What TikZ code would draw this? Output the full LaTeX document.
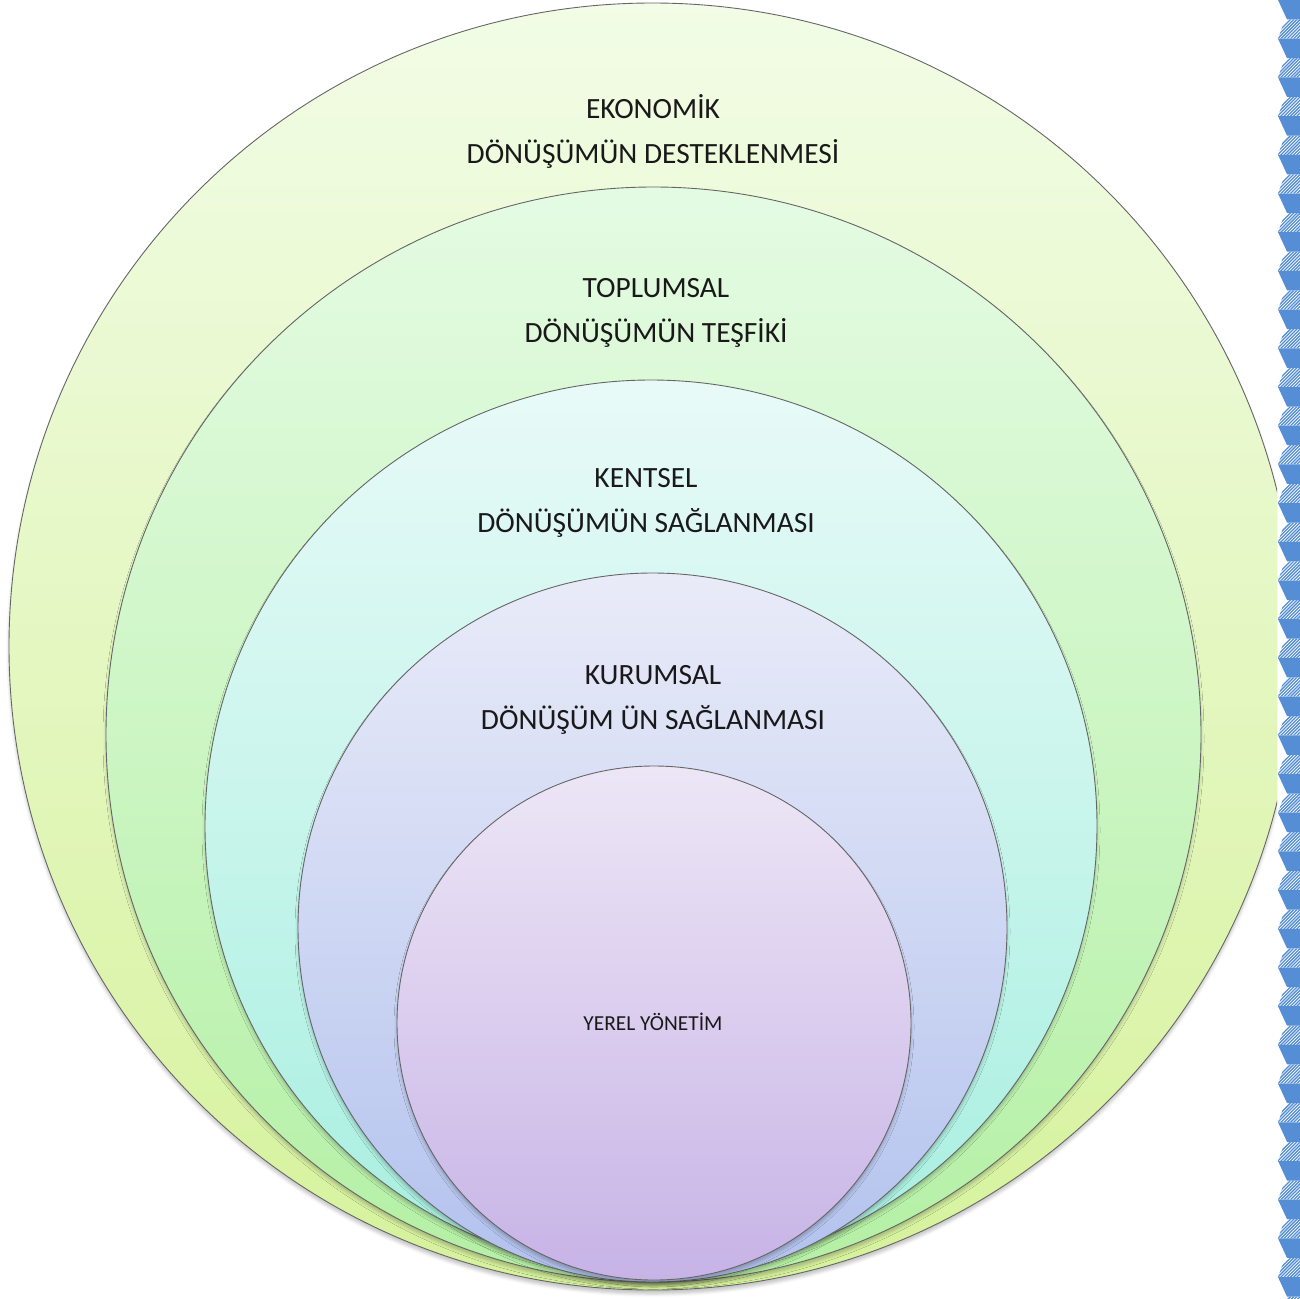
\documentclass[tikz,border=0pt]{standalone}
\usepackage{fontspec}
\setmainfont{Carlito}
\usetikzlibrary{shadows.blur}
\definecolor{bordblue}{RGB}{85,142,213}
\definecolor{c1t}{HTML}{F2FCE6}\definecolor{c1b}{HTML}{D6F29C}
\definecolor{c2t}{HTML}{E4FBE3}\definecolor{c2b}{HTML}{B4F0A4}
\definecolor{c3t}{HTML}{E8FAF8}\definecolor{c3b}{HTML}{A6EFDF}
\definecolor{c4t}{HTML}{E9EBF8}\definecolor{c4b}{HTML}{B2C2EE}
\definecolor{c5t}{HTML}{EDE6F6}\definecolor{c5b}{HTML}{C7B3E6}
\tikzset{
  ring/.style={circle, draw=black!60, line width=0.9pt, inner sep=0pt,
    blur shadow={shadow xshift=0pt, shadow yshift=-4pt, shadow blur radius=3pt, shadow opacity=22}},
  lab/.style={font=\fontsize{29.4}{45}\selectfont, align=center, text=black!90},
  solidchev/.style={fill=bordblue, draw=none},
  hatchline/.style={draw=bordblue, line width=1.3pt},
}
\begin{document}
\begin{tikzpicture}[x=1pt,y=-1pt]
\useasboundingbox (0,0) rectangle (1300,1298);
\begin{scope}
\clip (0,0) rectangle (1277,1298);
\node[ring, minimum size=1287pt, top color=c1t, bottom color=c1b] (eko) at (652.5,646.5) {};
\end{scope}
\node[ring, minimum size=1095pt, top color=c2t, bottom color=c2b] (top) at (653.5,734.5) {};
\node[ring, minimum size=892pt, top color=c3t, bottom color=c3b] (ken) at (651,826) {};
\node[ring, minimum size=709pt, top color=c4t, bottom color=c4b] (kur) at (652.5,927.5) {};
\node[ring, minimum size=514pt, top color=c5t, bottom color=c5b] (yer) at (654,1023) {};
\node[lab] (t1) at (653,131) {EKONOMİK\\DÖNÜŞÜMÜN DESTEKLENMESİ};
\node[lab] (t2) at (656,313) {TOPLUMSAL\\DÖNÜŞÜMÜN TEŞFİKİ};
\node[lab] (t3) at (646,503) {KENTSEL\\DÖNÜŞÜMÜN SAĞLANMASI};
\node[lab] (t4) at (653,700) {KURUMSAL\\DÖNÜŞÜM ÜN SAĞLANMASI};
\node[font=\fontsize{21.4}{24}\selectfont, text=black!90] (t5) at (653,1022) {YEREL YÖNETİM};
\begin{scope}
\clip (1270,0) rectangle (1300,1298);
\foreach \k in {-1,...,34} {
  \pgfmathsetmacro{\s}{38.7*\k}
  \fill[solidchev] (1278,\s) -- (1300,\s) -- (1300,\s+19.5) -- (1287,\s+19.5) -- cycle;
  \begin{scope}
    \clip (1285,\s+19.5) -- (1300,\s+19.5) -- (1300,\s+38.7) -- (1278,\s+38.7) -- cycle;
    \foreach \j in {0,...,14} {
      \draw[hatchline] (1270+3.2*\j,\s+40) -- ++(25,-25);
    }
  \end{scope}
}
\end{scope}
\end{tikzpicture}
\end{document}
